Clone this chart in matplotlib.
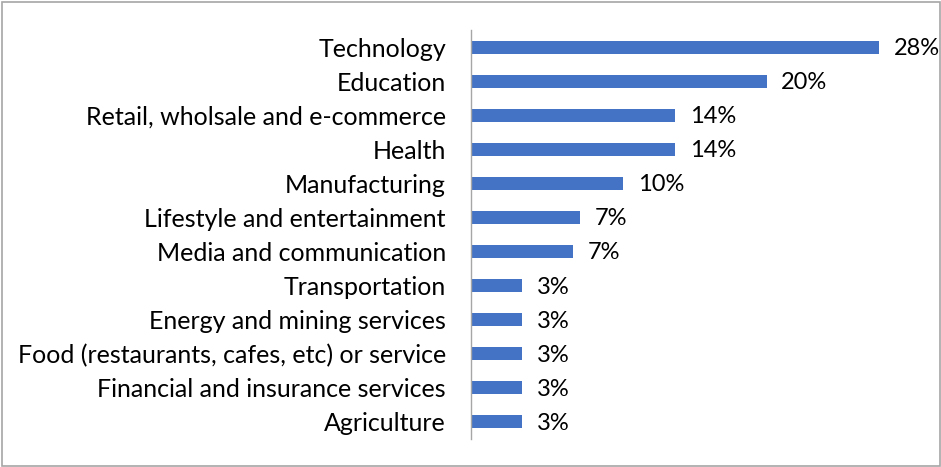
import matplotlib.pyplot as plt
from matplotlib.patches import Rectangle

sectors = [
    "Technology",
    "Education",
    "Retail, wholsale and e-commerce",
    "Health",
    "Manufacturing",
    "Lifestyle and entertainment",
    "Media and communication",
    "Transportation",
    "Energy and mining services",
    "Food (restaurants, cafes, etc) or service",
    "Financial and insurance services",
    "Agriculture",
]
shares = [27.6, 20.0, 13.8, 13.8, 10.3, 7.4, 6.9, 3.45, 3.45, 3.45, 3.45, 3.45]

BLUE = "#4472C4"
GREY = "#A6A6A6"

plt.rcParams["font.family"] = ["Lato", "DejaVu Sans"]

W, H = 941, 467
fig = plt.figure(figsize=(W / 100, H / 100), dpi=100)
ax = fig.add_axes([471 / W, 1 - 439 / H, 459 / W, 409 / H])

ypos = list(range(len(sectors)))
bars = ax.barh(ypos, shares, height=0.38, color=BLUE)
ax.set_ylim(len(sectors) - 0.5, -0.5)
ax.set_xlim(0, 459 / 14.78)

for rect, v in zip(bars, shares):
    ax.annotate("{:.0f}%".format(v), (rect.get_width(), rect.get_y() + rect.get_height() / 2),
                xytext=(10.5, -1), textcoords="offset points", ha="left", va="center",
                fontsize=17, color="black")

ax.set_yticks(ypos)
ax.set_yticklabels(sectors, fontsize=18, color="black")
ax.tick_params(axis="y", length=0, pad=18)
ax.set_xticks([])
for side in ["top", "right", "bottom"]:
    ax.spines[side].set_visible(False)
ax.spines["left"].set_color(GREY)
ax.spines["left"].set_linewidth(1)

# thin frame round the whole figure
fig.patches.append(Rectangle((1.5 / W, 1.5 / H), 1 - 3 / W, 1 - 3 / H, transform=fig.transFigure,
                             fill=False, edgecolor=GREY, linewidth=1.2))

fig.savefig("out.png", dpi=100)
